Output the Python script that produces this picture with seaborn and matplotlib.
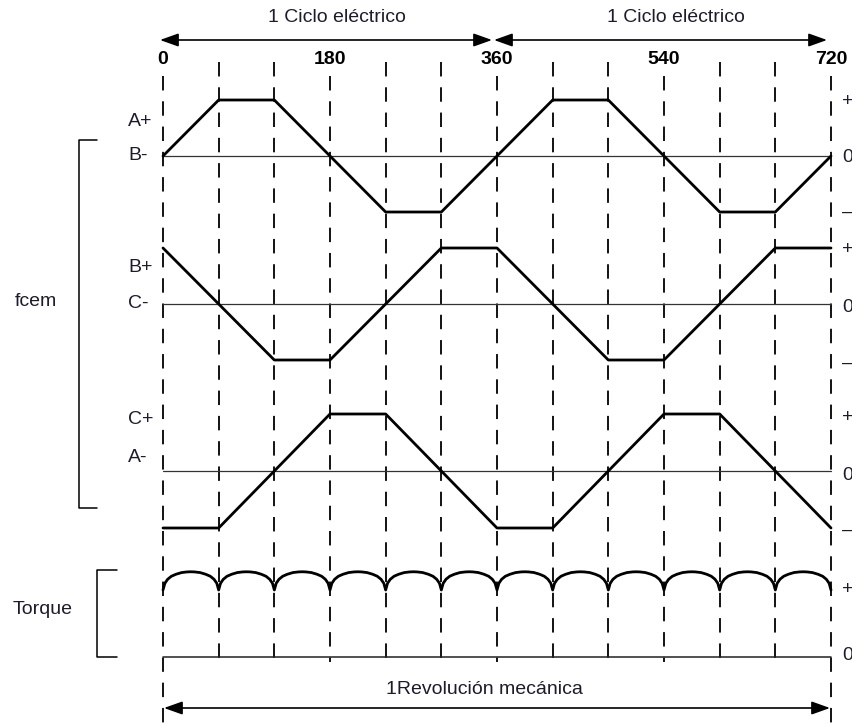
import numpy as np
import pandas as pd
import matplotlib
matplotlib.use("Agg")
import matplotlib.pyplot as plt
import seaborn as sns

sns.set_theme(style="white")
plt.rcParams["font.family"] = ["Liberation Sans", "DejaVu Sans"]

# ---------------- data ----------------
# breakpoints (electrical degrees) and levels (+1 / 0 / -1)
deg_pts = [0, 60, 120, 180, 240, 300, 360, 420, 480, 540, 600, 660, 720]
fcem_A = [0, 1, 1, 0, -1, -1, 0, 1, 1, 0, -1, -1, 0]
fcem_B = [1, 0, -1, -1, 0, 1, 1, 0, -1, -1, 0, 1, 1]
fcem_C = [-1, -1, 0, 1, 1, 0, -1, -1, 0, 1, 1, 0, -1]

# torque ripple: one 60-degree arc (offset, level), repeated for every commutation
arc_offsets = [0, 2, 5, 9, 14, 20, 26, 30, 34, 40, 46, 51, 55, 58, 60]
arc_levels = [1.00, 1.10, 1.16, 1.205, 1.235, 1.26, 1.27, 1.272, 1.27, 1.26, 1.235, 1.205, 1.16, 1.10, 1.00]
n_arcs = 12

tick_degs = [0, 180, 360, 540, 720]
tick_labels = ["0", "180", "360", "540", "720"]
dash_degs = list(range(0, 721, 60))

left_labels = [("A+", 121), ("B-", 156), ("B+", 268), ("C-", 304), ("C+", 420), ("A-", 457)]
right_labels = [("+", 101), ("0", 157), ("\u2013", 212),
                ("+", 250), ("0", 307), ("\u2013", 363),
                ("+", 418), ("0", 476), ("\u2013", 530),
                ("+", 590), ("0", 656)]

# ---------------- layout helpers (pixel based) ----------------
W, H = 853, 724
X0, X720 = 163, 831
k = 720.0 / (X720 - X0)


def px2deg(px):
    return (px - X0) * k


rows = {"A": (156, 56), "B": (304, 56), "C": (471, 57)}
torque_base, torque_scale = 657, 67

fig = plt.figure(figsize=(W / 100, H / 100), dpi=100)
ax = fig.add_axes([0, 0, 1, 1])

txt_color = "#1c1c2c"
FS = 14

# dashed vertical lines
for d in dash_degs:
    top = 76 if d % 180 == 0 else 62
    bottom = 724 if d in (0, 720) else 662
    ax.plot([d, d], [top, bottom], color="black", lw=1.3,
            linestyle=(0, (8, 6)), zorder=1)

# zero baselines
for key, (base, amp) in rows.items():
    ax.plot([0, 720], [base, base], color="#333333", lw=0.9, zorder=2)
ax.plot([0, 720], [torque_base, torque_base], color="#222222", lw=1.1, zorder=2)

# waveforms
frames = []
for key, vals in (("A", fcem_A), ("B", fcem_B), ("C", fcem_C)):
    base, amp = rows[key]
    frames.append(pd.DataFrame({"deg": deg_pts,
                                "y": [base - amp * v for v in vals],
                                "trace": key}))
tq_deg, tq_val = [], []
for i in range(n_arcs):
    for o, v in zip(arc_offsets, arc_levels):
        tq_deg.append(i * 60 + o)
        tq_val.append(v)
frames.append(pd.DataFrame({"deg": tq_deg,
                            "y": [torque_base - torque_scale * v for v in tq_val],
                            "trace": "T"}))
df = pd.concat(frames, ignore_index=True)
for key, sub in df.groupby("trace"):
    sns.lineplot(data=sub, x="deg", y="y", ax=ax, color="black",
                 lw=2.0, sort=False, estimator=None, zorder=3)
ax.set_xlim(px2deg(0), px2deg(W))
ax.set_ylim(H, 0)
ax.axis("off")

# axis numbers
for d, lab in zip(tick_degs, tick_labels):
    ax.text(d, 60, lab, ha="center", va="center", fontsize=FS,
            fontweight="bold", color="black")

# top arrows
arrow_kw = dict(arrowstyle="<|-|>,head_length=0.7,head_width=0.25", color="black", lw=1.2,
                mutation_scale=16, shrinkA=0, shrinkB=0)
ax.annotate("", xy=(px2deg(160), 40), xytext=(px2deg(492), 40), arrowprops=arrow_kw)
ax.annotate("", xy=(px2deg(494), 40), xytext=(px2deg(827), 40), arrowprops=arrow_kw)
ax.text(px2deg(337), 18, "1 Ciclo el\u00e9ctrico", ha="center", va="center",
        fontsize=FS, color=txt_color)
ax.text(px2deg(676), 18, "1 Ciclo el\u00e9ctrico", ha="center", va="center",
        fontsize=FS, color=txt_color)

# bottom arrow
ax.annotate("", xy=(px2deg(164), 708), xytext=(px2deg(830), 708), arrowprops=arrow_kw)
ax.text(px2deg(484), 690, "1Revoluci\u00f3n mec\u00e1nica", ha="center", va="center",
        fontsize=FS, color=txt_color)

# left labels
for lab, y in left_labels:
    ax.text(px2deg(128), y, lab, ha="left", va="center", fontsize=FS, color=txt_color)
for lab, y in right_labels:
    ax.text(px2deg(842), y, lab, ha="left", va="center", fontsize=FS, color=txt_color)

ax.text(px2deg(15), 301, "fcem", ha="left", va="center", fontsize=FS, color=txt_color)
ax.text(px2deg(13), 610, "Torque", ha="left", va="center", fontsize=FS, color=txt_color)

# brackets
ax.plot([px2deg(97), px2deg(79), px2deg(79), px2deg(97)], [140, 140, 508, 508],
        color="black", lw=1.1)
ax.plot([px2deg(117), px2deg(97), px2deg(97), px2deg(117)], [570, 570, 657, 657],
        color="black", lw=1.1)

fig.savefig("out.png", dpi=100)
